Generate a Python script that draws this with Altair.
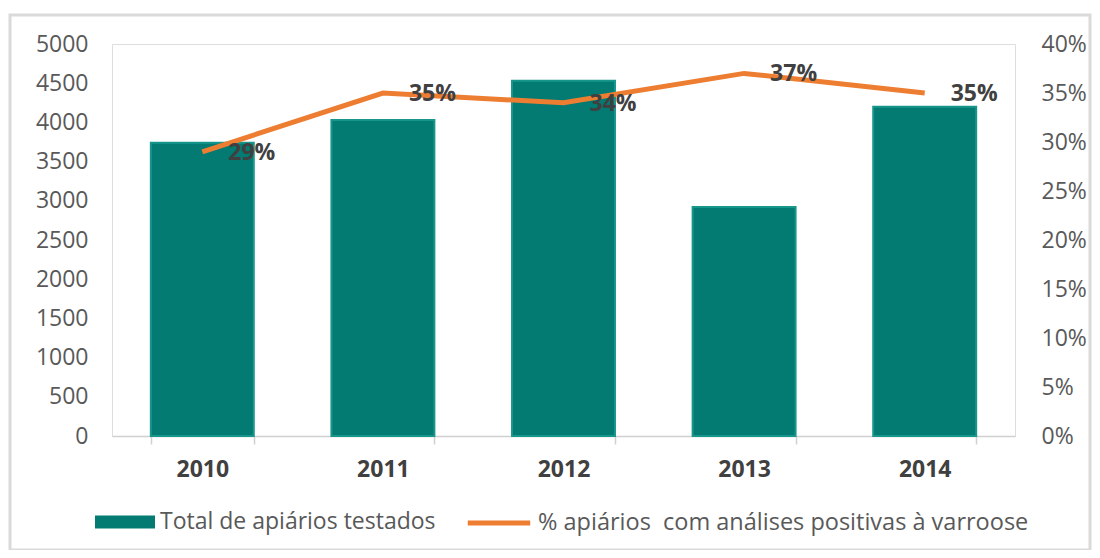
import altair as alt
import pandas as pd

years = ["2010", "2011", "2012", "2013", "2014"]
totals = [3740, 4030, 4530, 2920, 4200]
pcts = [0.29, 0.35, 0.34, 0.37, 0.35]
bar_label = "Total de apiários testados"
line_label = "% apiários\u00a0 com análises positivas à varroose"

df = pd.DataFrame({
    "ano": years,
    "total": totals,
    "pct": pcts,
    "serie_bar": [bar_label] * len(years),
    "serie_line": [line_label] * len(years),
})

TEAL = "#037A72"
ORANGE = "#ED7D31"
FONT = "Open Sans"

x_enc = alt.X(
    "ano:N",
    sort=years,
    title=None,
    scale=alt.Scale(paddingInner=0.43, paddingOuter=0.215),
    axis=alt.Axis(
        labelAngle=0,
        labelFont=FONT,
        labelFontWeight="bold",
        labelFontSize=23,
        labelColor="#404040",
        labelPadding=14,
        domainColor="#D0D0D0",
        domainWidth=1.5,
        tickColor="#D0D0D0",
        tickWidth=1.5,
        tickSize=8,
        tickBand="extent",
        grid=False,
    ),
)

frame = alt.Chart(alt.Data(values=[{"a": 1}])).mark_rect(
    fill="transparent", stroke="#DADADA", strokeWidth=3
).encode(
    x=alt.value(-102), x2=alt.value(978), y=alt.value(-29), y2=alt.value(506)
)

bars = alt.Chart(df).mark_bar(stroke="#17968C", strokeWidth=2).encode(
    x=x_enc,
    y=alt.Y(
        "total:Q",
        title=None,
        scale=alt.Scale(domain=[0, 5000]),
        axis=alt.Axis(
            orient="left",
            format="d",
            values=list(range(0, 5001, 500)),
            labelFont=FONT,
            labelFontSize=23,
            labelColor="#595959",
            labelPadding=24,
            domain=False,
            ticks=False,
            grid=False,
        ),
    ),
    fill=alt.Fill(
        "serie_bar:N",
        scale=alt.Scale(range=[TEAL]),
        legend=alt.Legend(
            title=None,
            orient="none",
            legendX=-17,
            legendY=448,
            symbolType="M-1,-0.22H1V0.22H-1Z",
            symbolSize=3600,
            symbolStrokeWidth=0,
            labelFont=FONT,
            labelFontSize=23,
            labelColor="#595959",
            labelOffset=5,
            labelLimit=700,
            padding=0,
        ),
    ),
)

y_right = alt.Y(
    "pct:Q",
    title=None,
    scale=alt.Scale(domain=[0, 0.4]),
    axis=alt.Axis(
        orient="right",
        format=".0%",
        values=[0, 0.05, 0.1, 0.15, 0.2, 0.25, 0.3, 0.35, 0.4],
        labelFont=FONT,
        labelFontSize=23,
        labelColor="#595959",
        labelPadding=26,
        domain=False,
        ticks=False,
        grid=False,
    ),
)

line = alt.Chart(df).mark_line(strokeWidth=5).encode(
    x=alt.X("ano:N", sort=years),
    y=y_right,
    stroke=alt.Stroke(
        "serie_line:N",
        scale=alt.Scale(range=[ORANGE]),
        legend=alt.Legend(
            title=None,
            orient="none",
            legendX=353,
            legendY=445,
            symbolType="stroke",
            symbolSize=3900,
            symbolStrokeWidth=5,
            labelFont=FONT,
            labelFontSize=23.5,
            labelColor="#595959",
            labelOffset=5,
            labelLimit=800,
            padding=0,
        ),
    ),
)

labels = alt.Chart(df).mark_text(
    align="left", baseline="middle", dx=26, dy=1,
    font=FONT, fontSize=23, fontWeight="bold", color="#404040"
).encode(
    x=alt.X("ano:N", sort=years),
    y=alt.Y("pct:Q"),
    text=alt.Text("pct:Q", format=".0%"),
)

chart = alt.layer(
    frame, bars, alt.layer(line, labels)
).resolve_scale(
    y="independent"
).properties(
    width=903,
    height=392,
    autosize=alt.AutoSizeParams(type="none"),
    padding={"left": 104, "top": 36, "right": 77, "bottom": 114},
).configure_view(stroke=None).configure(background="white")

chart.save("out.html", embed_options={"renderer": "svg", "actions": False})
